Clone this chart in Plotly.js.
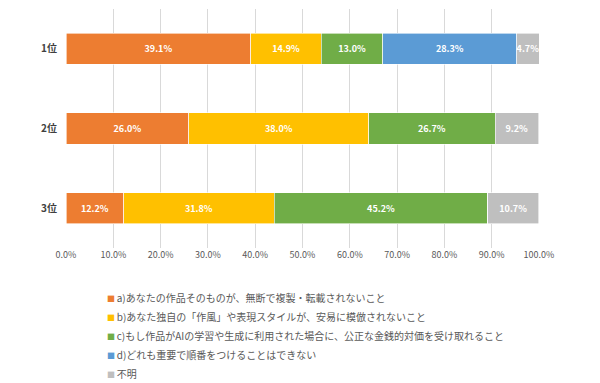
<!DOCTYPE html>
<html><head><meta charset="utf-8">
<script src="https://cdn.plot.ly/plotly-3.0.1.min.js"></script>
<style>html,body{margin:0;padding:0;background:#fff}#chart{width:600px;height:383px}</style>
</head><body><div id="chart"></div>
<script>
const categories = ["1位", "2位", "3位"];
const seriesNames = [
  "a)あなたの作品そのものが、無断で複製・転載されないこと",
  "b)あなた独自の「作風」や表現スタイルが、安易に模倣されないこと",
  "c)もし作品がAIの学習や生成に利用された場合に、公正な金銭的対価を受け取れること",
  "d)どれも重要で順番をつけることはできない",
  "不明"
];
const seriesA = [39.1, 26.0, 12.2];
const seriesB = [14.9, 38.0, 31.8];
const seriesC = [13.0, 26.7, 45.2];
const seriesD = [28.3, 0, 0];
const seriesE = [4.7, 9.2, 10.7];
const tickVals = [0,10,20,30,40,50,60,70,80,90,100];
const tickText = ["0.0%","10.0%","20.0%","30.0%","40.0%","50.0%","60.0%","70.0%","80.0%","90.0%","100.0%"];
const colors = ["#ED7D31", "#FFC000", "#70AD47", "#5B9BD5", "#BFBFBF"];
const allSeries = [seriesA, seriesB, seriesC, seriesD, seriesE];
const FONT = "'Noto Sans CJK JP', 'Noto Sans', sans-serif";

const traces = [];
allSeries.forEach((vals, i) => {
  traces.push({
    type: "bar", orientation: "h",
    y: categories, x: vals, name: seriesNames[i],
    marker: {color: colors[i], line: {color: "#ffffff", width: 0.6}},
    text: vals.map(v => v > 0 ? v.toFixed(1) + "%" : ""),
    textposition: "inside", insidetextanchor: "middle",
    textangle: 0, constraintext: "none",
    textfont: {color: "#ffffff", size: 9, family: FONT, weight: "bold"},
    cliponaxis: false,
    width: 0.39, showlegend: false, hoverinfo: "skip"
  });
});
seriesNames.forEach((n, i) => {
  traces.push({
    type: "scatter", mode: "markers", x: [null], y: [null],
    name: '<span style="color:' + colors[i] + ';font-size:8px">■ </span>' + n,
    marker: {symbol: "square", size: 1, color: "rgba(0,0,0,0)"},
    showlegend: true, hoverinfo: "skip"
  });
});

const layout = {
  width: 600, height: 383,
  margin: {l: 66, r: 61, t: 8.5, b: 134.5, autoexpand: false},
  paper_bgcolor: "#ffffff", plot_bgcolor: "#ffffff",
  barmode: "stack", bargap: 0.61,
  showlegend: true,
  font: {family: FONT, color: "#595959"},
  xaxis: {
    range: [0, 100], tickvals: tickVals, ticktext: tickText,
    showgrid: true, gridcolor: "#D9D9D9", gridwidth: 1,
    zeroline: false, showline: false, ticks: "",
    tickfont: {size: 9, color: "#595959", family: FONT},
    fixedrange: true
  },
  yaxis: {
    autorange: "reversed", type: "category",
    showgrid: false, zeroline: false, showline: false, ticks: "",
    ticklabelstandoff: 8,
    tickfont: {size: 10, color: "#404040", family: FONT, weight: "bold"},
    fixedrange: true
  },
  legend: {
    orientation: "v", traceorder: "normal",
    x: 0.002, xanchor: "left", y: -0.15, yanchor: "top",
    font: {size: 10, color: "#595959", family: FONT},
    itemwidth: 30, bgcolor: "rgba(0,0,0,0)", tracegroupgap: 0
  }
};
Plotly.newPlot("chart", traces, layout, {displayModeBar: false, staticPlot: true});
</script></body></html>
